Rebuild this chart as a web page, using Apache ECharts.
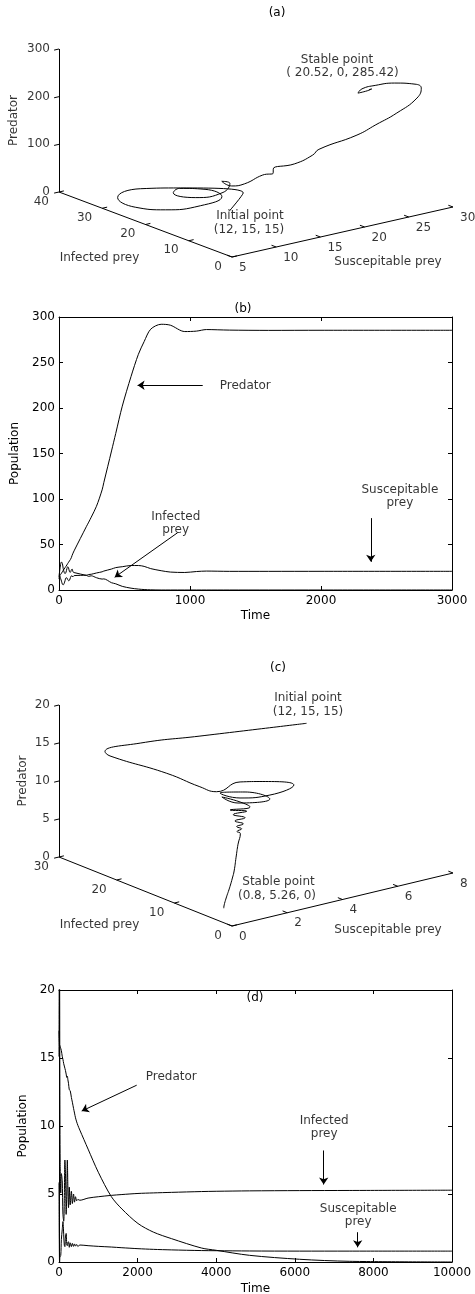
<!DOCTYPE html>
<html>
<head>
<meta charset="utf-8">
<title>Predator - prey trajectories</title>
<script src="https://cdn.jsdelivr.net/npm/echarts@6.0.0/dist/echarts.min.js"></script>
<style>
  html, body { margin: 0; padding: 0; background: #fff; }
  #chart { width: 475px; height: 1294px; }
</style>
</head>
<body>
<div id="chart"></div>
<script>
// run 1 : predator persists  -> panels (a) and (b)
var time1 = [0, 5, 12, 19, 26, 32, 39, 46, 53, 60, 66, 73, 80, 87, 94, 100, 107, 115,
  210, 227, 246, 286, 329, 342, 401, 433, 483, 550, 606, 650, 700, 780, 850, 960, 1050,
  1125, 1300, 1600, 2000, 3000];
var sus1 = [12, 16.4, 12.8, 9.7, 6.3, 5.6, 7.1, 10.2, 13.3, 13.35, 11.6, 10.2, 10.7, 13.5, 15.5, 15.1, 14.7, 15.8,
  16.3, 17, 17.3, 18.7, 20, 20.8, 23.05, 24.6, 25.6, 26.9, 26.9, 25.95, 23.5, 21.2, 19.7, 19.25, 20.3,
  20.8, 20.5, 20.5, 20.52, 20.52];
var inf1 = [15, 20.7, 27.9, 30.8, 29.1, 23.6, 19.7, 17.95, 19.3, 23.3, 25.6, 24.2, 20.15, 19.45, 21.95, 23, 19.9, 19.15,
  16, 15, 15.6, 13.5, 12, 12.2, 8, 6.8, 4, 2, 1, 0.5, 0.2, 0, 0, 0, 0,
  0, 0, 0, 0, 0];
var pred1 = [15, 16, 17, 18.5, 20, 21.5, 23, 24.5, 26, 27.5, 29, 30.5, 32, 33.5, 35.5, 38, 40.5, 43,
  70, 74.6, 80, 92, 110, 118, 152.8, 172, 202, 234.7, 259, 273, 286.6, 292, 291, 284, 284.5,
  286.2, 285.6, 285.3, 285.42, 285.42];

// run 2 : predator dies out  -> panels (c) and (d)
var time2 = [0, 4, 8, 12, 16, 22, 30, 45, 60, 82, 100, 120, 135, 150, 165, 182, 198, 212, 226, 242, 262,
  285, 315, 340, 370, 395, 420, 450, 480, 530,
  740, 1000, 1333, 1600, 2010, 2400, 2860, 3623, 4000, 4850, 6120, 7400, 10000];
var sus2 = [5.85, 2.89, 1.27, 0.12, 0.01, 0.33, 0.36, 0.5, 1.65, 2.37, 2.97, 2.0, 1.23, 1.13, 1.83, 2.1, 1.26, 1.2, 1.44, 1.49, 1.08,
  1.41, 1.13, 1.37, 1.15, 1.33, 1.17, 1.29, 1.14, 1.25,
  1.2, 1.15, 1.1, 1.05, 0.98, 0.93, 0.89, 0.84, 0.83, 0.81, 0.8, 0.8, 0.8];
var inf2 = [15.1, 19.4, 22.0, 22.6, 21.2, 12.9, 7.3, 5.07, 6.5, 6, 3.5, 3, 4.5, 7.5, 6.5, 3.5, 5, 7.5, 5.5, 4, 5.5,
  4.2, 5.2, 4.3, 5, 4.4, 4.8, 4.5, 4.6, 4.54,
  4.7, 4.8, 4.9, 4.96, 5.04, 5.08, 5.12, 5.18, 5.2, 5.23, 5.25, 5.26, 5.28];
var pred2 = [17, 16.6, 16.3, 16, 15.95, 15.9, 15.8, 15.7, 15.55, 15.13, 14.9, 14.58, 14.41, 14.24, 14.07, 13.82, 13.57, 13.66, 13.4, 13.14, 12.66,
  12.6, 12.1, 11.75, 11.3, 10.95, 10.6, 10.3, 10.05, 9.7,
  8.3, 6.6, 4.8, 3.9, 2.83, 2.2, 1.72, 1.03, 0.86, 0.49, 0.2, 0.05, 0];

// ticks of the two 3d boxes
var sTicksA = [5, 10, 15, 20, 25, 30];
var iTicksA = [0, 10, 20, 30, 40];
var pTicksA = [0, 100, 200, 300];
var sTicksC = [0, 2, 4, 6, 8];
var iTicksC = [0, 10, 20, 30];
var pTicksC = [0, 5, 10, 15, 20];

var FONT = '"DejaVu Sans", Verdana, sans-serif';
var FS = 12;
var BLACK = '#000';

// how each 3d box sits inside its (hidden, pixel sized) grid
var boxA = {s: [5, 30], i: [0, 40], p: [0, 300], o: [232, 257], sEnd: [453, 207], iEnd: [59, 192], pLen: 143, pNameDx: -45};
var boxC = {s: [0, 8], i: [0, 30], p: [0, 20], o: [232, 296], sEnd: [453, 243], iEnd: [59, 227], pLen: 152, pNameDx: -36};

function makeProj(b) {
    return function (s, i, p) {
        var fs = (s - b.s[0]) / (b.s[1] - b.s[0]);
        var fi = (i - b.i[0]) / (b.i[1] - b.i[0]);
        var fp = (p - b.p[0]) / (b.p[1] - b.p[0]);
        return [
            b.o[0] + fs * (b.sEnd[0] - b.o[0]) + fi * (b.iEnd[0] - b.o[0]),
            b.o[1] + fs * (b.sEnd[1] - b.o[1]) + fi * (b.iEnd[1] - b.o[1]) - fp * b.pLen
        ];
    };
}

function textItem(pos, text, align, rotate) {
    return {value: pos, label: {formatter: text, align: align || 'center', rotate: rotate || 0}};
}

function textSeries(ai, items) {
    return {
        type: 'scatter', xAxisIndex: ai, yAxisIndex: ai, symbolSize: 1, silent: true, z: 5,
        itemStyle: {color: 'rgba(0,0,0,0)'},
        label: {show: true, position: 'inside', color: BLACK, fontSize: FS, fontFamily: FONT, lineHeight: 13},
        data: items
    };
}

function segSeries(ai, segs, arrow) {
    return {
        type: 'lines', coordinateSystem: 'cartesian2d', xAxisIndex: ai, yAxisIndex: ai, silent: true, z: 4,
        symbol: arrow ? ['none', 'arrow'] : 'none', symbolSize: 7,
        lineStyle: {color: BLACK, width: 1, opacity: 1, curveness: 0},
        data: segs.map(function (c) { return {coords: c}; })
    };
}

function lineSeries(ai, xs, ys) {
    return {
        type: 'line', xAxisIndex: ai, yAxisIndex: ai, silent: true, showSymbol: false, symbol: 'none',
        smooth: 0.3, lineStyle: {color: BLACK, width: 1},
        data: xs.map(function (x, k) { return [x, ys[k]]; })
    };
}

// the 3d boxes are drawn as a projection onto a hidden cartesian grid
function panel3d(b, ai, sTicks, iTicks, pTicks, S, I, P, notes) {
    var proj = makeProj(b);
    function unit(v, len) { var l = Math.sqrt(v[0] * v[0] + v[1] * v[1]); return [v[0] / l * len, v[1] / l * len]; }
    var vs = [b.sEnd[0] - b.o[0], b.sEnd[1] - b.o[1]];
    var vi = [b.iEnd[0] - b.o[0], b.iEnd[1] - b.o[1]];
    var tS = unit(vi, 5), tI = unit(vs, 5), tP = unit(vs, -5);
    var segs = [
        [proj(b.s[0], b.i[1], b.p[0]), proj(b.s[0], b.i[1], b.p[1])],
        [proj(b.s[0], b.i[1], b.p[0]), proj(b.s[0], b.i[0], b.p[0])],
        [proj(b.s[0], b.i[0], b.p[0]), proj(b.s[1], b.i[0], b.p[0])]
    ];
    var labels = [];
    pTicks.forEach(function (v) {
        var q = proj(b.s[0], b.i[1], v);
        segs.push([q, [q[0] + tP[0], q[1] + tP[1]]]);
        labels.push(textItem([q[0] - 9, q[1]], String(v), 'right'));
    });
    iTicks.forEach(function (v) {
        var q = proj(b.s[0], v, b.p[0]);
        segs.push([q, [q[0] + tI[0], q[1] + tI[1]]]);
        labels.push(textItem([q[0] - 10, q[1] + 9.5], String(v), 'right'));
    });
    sTicks.forEach(function (v) {
        var q = proj(v, b.i[0], b.p[0]);
        segs.push([q, [q[0] + tS[0], q[1] + tS[1]]]);
        labels.push(textItem([q[0] + 7, q[1] + 10.5], String(v), 'left'));
    });
    var pm = proj(b.s[0], b.i[1], (b.p[0] + b.p[1]) / 2);
    var im = proj(b.s[0], (b.i[0] + b.i[1]) / 2, b.p[0]);
    var sm = proj((b.s[0] + b.s[1]) / 2, b.i[0], b.p[0]);
    labels.push(textItem([pm[0] + b.pNameDx, pm[1]], 'Predator', 'center', 90));
    labels.push(textItem([im[0] - 46, im[1] + 33], 'Infected prey'));
    labels.push(textItem([sm[0] + 45.5, sm[1] + 30], 'Suscepitable prey'));
    notes.forEach(function (n) { labels.push(textItem(n[0], n[1])); });

    var path = S.map(function (s, k) { return proj(s, I[k], P[k]); });
    return [
        segSeries(ai, segs, false),
        textSeries(ai, labels),
        {type: 'line', xAxisIndex: ai, yAxisIndex: ai, silent: true, showSymbol: false, symbol: 'none',
         smooth: 0.5, lineStyle: {color: BLACK, width: 1}, data: path}
    ];
}

function hiddenAxis(gi, max, inv) {
    return {type: 'value', gridIndex: gi, min: 0, max: max, inverse: inv, show: false};
}

function boxAxis(gi, pos, max, step, name, gap) {
    return {
        type: 'value', gridIndex: gi, position: pos, min: 0, max: max, interval: step,
        axisLine: {show: true, onZero: false, lineStyle: {color: BLACK, width: 1}},
        axisTick: {show: true, inside: true, length: 4, lineStyle: {color: BLACK, width: 1}},
        axisLabel: {show: !!name, color: BLACK, fontSize: FS, fontFamily: FONT, margin: pos === 'left' ? 4 : 5,
                    formatter: function (v) { return String(v); }},
        splitLine: {show: false},
        name: name || '', nameLocation: 'middle', nameGap: gap || 0,
        nameTextStyle: {color: BLACK, fontSize: FS, fontFamily: FONT}
    };
}

function title(x, y, t) {
    return {type: 'text', x: x, y: y, silent: true,
        style: {text: t, fill: BLACK, font: FS + 'px ' + FONT, textAlign: 'center', textVerticalAlign: 'middle',
                align: 'center', verticalAlign: 'middle'}};
}

var series = [];
// (a)
series = series.concat(panel3d(boxA, 0, sTicksA, iTicksA, pTicksA, sus1, inf1, pred1, [
    [[337, 60], 'Stable point'], [[342.5, 73], '( 20.52, 0, 285.42)'],
    [[250, 216], 'Initial point'], [[249, 229.5], '(12, 15, 15)']
]));
// (b)
series.push(lineSeries(1, time1, pred1));
series.push(lineSeries(1, time1, inf1));
series.push(lineSeries(1, time1, sus1));
series.push(segSeries(1, [[[1097, 225], [600, 225]], [[906, 63], [425, 14]], [[2380, 79], [2380, 31]]], true));
series.push(textSeries(1, [
    textItem([1227, 224], 'Predator', 'left'),
    textItem([891, 73], 'Infected\nprey'),
    textItem([2602, 103], 'Suscepitable\nprey')
]));
// (c)
series = series.concat(panel3d(boxC, 3, sTicksC, iTicksC, pTicksC, sus2, inf2, pred2, [
    [[308, 68], 'Initial point'], [[308, 82], '(12, 15, 15)'],
    [[278.5, 252], 'Stable point'], [[277, 266], '(0.8, 5.26, 0)']
]));
// (d)
series.push(lineSeries(4, time2, pred2));
series.push(lineSeries(4, time2, inf2));
series.push(lineSeries(4, time2, sus2));
series.push(segSeries(4, [[[1977, 13.0], [578, 11.1]], [[6735, 8.2], [6735, 5.7]], [[7600, 2.19], [7600, 1.08]]], true));
series.push(textSeries(4, [
    textItem([2206, 13.6], 'Predator', 'left'),
    textItem([6748, 9.9], 'Infected\nprey'),
    textItem([7613, 3.4], 'Suscepitable\nprey')
]));

var chart = echarts.init(document.getElementById('chart'));
chart.setOption({
    animation: false,
    backgroundColor: '#fff',
    textStyle: {fontFamily: FONT},
    grid: [
        {left: 0, top: 0, width: 475, height: 300, containLabel: false, outerBoundsMode: 'none'},
        {left: 59, top: 317, width: 393, height: 273, containLabel: false, outerBoundsMode: 'none'},
        {left: 0, top: 630, width: 475, height: 330, containLabel: false, outerBoundsMode: 'none'},
        {left: 59, top: 990, width: 393, height: 272, containLabel: false, outerBoundsMode: 'none'}
    ],
    xAxis: [
        hiddenAxis(0, 475, false),
        boxAxis(1, 'bottom', 3000, 1000, 'Time', 20),
        boxAxis(1, 'top', 3000, 1000),
        hiddenAxis(2, 475, false),
        boxAxis(3, 'bottom', 10000, 2000, 'Time', 21),
        boxAxis(3, 'top', 10000, 2000)
    ],
    yAxis: [
        hiddenAxis(0, 300, true),
        boxAxis(1, 'left', 300, 50, 'Population', 34),
        boxAxis(1, 'right', 300, 50),
        hiddenAxis(2, 330, true),
        boxAxis(3, 'left', 20, 5, 'Population', 26),
        boxAxis(3, 'right', 20, 5)
    ],
    graphic: [title(277, 13, '(a)'), title(243, 309, '(b)'), title(278, 668, '(c)'), title(255, 998, '(d)')],
    series: series
});
</script>
</body>
</html>
